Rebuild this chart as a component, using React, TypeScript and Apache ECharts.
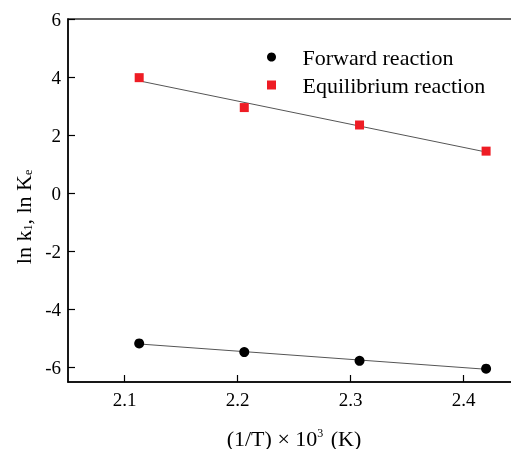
import React, { useEffect, useRef } from "react";
import * as echarts from "echarts";

const invT = [2.113, 2.206, 2.308, 2.42];
const forwardVals = [-5.17, -5.47, -5.77, -6.04];
const equilibriumVals = [3.98, 2.95, 2.35, 1.45];
const xTicks = [2.1, 2.2, 2.3, 2.4];
const yTicks = [-6, -4, -2, 0, 2, 4, 6];

const FONT = "'Liberation Serif', 'Times New Roman', serif";

function fitLine(xs: number[], ys: number[]): number[][] {
  const n = xs.length;
  const mx = xs.reduce((a, b) => a + b, 0) / n;
  const my = ys.reduce((a, b) => a + b, 0) / n;
  let sxy = 0;
  let sxx = 0;
  for (let i = 0; i < n; i++) {
    sxy += (xs[i] - mx) * (ys[i] - my);
    sxx += (xs[i] - mx) * (xs[i] - mx);
  }
  const k = sxy / sxx;
  const b = my - k * mx;
  const x0 = xs[0];
  const x1 = xs[n - 1];
  return [
    [x0, k * x0 + b],
    [x1, k * x1 + b],
  ];
}

export default function App() {
  const ref = useRef<HTMLDivElement>(null);
  useEffect(() => {
    if (!ref.current) return;
    const chart = echarts.init(ref.current, undefined, { renderer: "svg" });
    const pair = (ys: number[]) => invT.map((x, i) => [x, ys[i]]);
    chart.setOption({
      animation: false,
      textStyle: { fontFamily: FONT, color: "#000" },
      grid: {
        left: 68,
        top: 19,
        width: 452,
        height: 363,
        outerBoundsMode: "none",
        containLabel: false,
        show: true,
        borderColor: "#333",
        borderWidth: 1.5,
      },
      legend: {
        data: [
          { name: "Forward reaction", icon: "circle" },
          { name: "Equilibrium reaction", icon: "path://M0 0h10v10h-10z" },
        ],
        orient: "vertical",
        left: 262,
        top: 41,
        itemWidth: 52,
        itemHeight: 9,
        itemGap: 6,
        symbolKeepAspect: true,
        textStyle: { fontFamily: FONT, fontSize: 22, color: "#000" },
      },
      xAxis: {
        type: "value",
        min: 2.05,
        max: 2.45,
        splitLine: { show: false },
        axisLine: { onZero: false, lineStyle: { color: "#000", width: 1.5 } },
        axisTick: {
          inside: true,
          length: 7,
          customValues: xTicks,
          lineStyle: { color: "#000", width: 1.2 },
        },
        axisLabel: {
          customValues: xTicks,
          margin: 8,
          fontSize: 19,
          fontFamily: FONT,
          color: "#000",
          formatter: (v: number) => v.toFixed(1),
        },
        name: "(1/T) × 10{sup|3} (K)",
        nameLocation: "middle",
        nameGap: 45,
        nameTextStyle: {
          fontFamily: FONT,
          fontSize: 22,
          color: "#000",
          rich: {
            sup: { fontFamily: FONT, fontSize: 12, color: "#000", verticalAlign: "top", padding: [0, 2, 0, 0] },
          },
        },
      },
      yAxis: {
        type: "value",
        min: -6.5,
        max: 6,
        splitLine: { show: false },
        axisLine: { onZero: false, lineStyle: { color: "#000", width: 1.5 } },
        axisTick: {
          inside: true,
          length: 7,
          customValues: yTicks,
          lineStyle: { color: "#000", width: 1.2 },
        },
        axisLabel: {
          customValues: yTicks,
          margin: 7,
          fontSize: 19,
          fontFamily: FONT,
          color: "#000",
        },
      },
      graphic: [
        {
          type: "text",
          x: 23,
          y: 217,
          rotation: Math.PI / 2,
          style: {
            text: "ln k{sub|1}, ln K{sub|e}",
            fontFamily: FONT,
            fontSize: 22,
            fill: "#000",
            align: "center",
            verticalAlign: "middle",
            rich: {
              sub: { fontFamily: FONT, fontSize: 12, fill: "#000", verticalAlign: "bottom", padding: [6, 0, 0, 0] },
            },
          },
        },
      ],
      series: [
        {
          name: "fitF",
          type: "line",
          data: fitLine(invT, forwardVals),
          showSymbol: false,
          lineStyle: { color: "#555", width: 1 },
          z: 1,
          silent: true,
        },
        {
          name: "fitE",
          type: "line",
          data: fitLine(invT, equilibriumVals),
          showSymbol: false,
          lineStyle: { color: "#555", width: 1 },
          z: 1,
          silent: true,
        },
        {
          name: "Forward reaction",
          type: "scatter",
          data: pair(forwardVals),
          symbol: "circle",
          symbolSize: 10,
          itemStyle: { color: "#000", opacity: 1 },
          z: 3,
        },
        {
          name: "Equilibrium reaction",
          type: "scatter",
          data: pair(equilibriumVals),
          symbol: "rect",
          symbolSize: 9,
          itemStyle: { color: "#ee1c24", opacity: 1 },
          z: 3,
        },
      ],
    });
    return () => chart.dispose();
  }, []);
  return (
    <div
      ref={ref}
      style={{ position: "fixed", left: 0, top: 0, width: 511, height: 449 }}
    />
  );
}
